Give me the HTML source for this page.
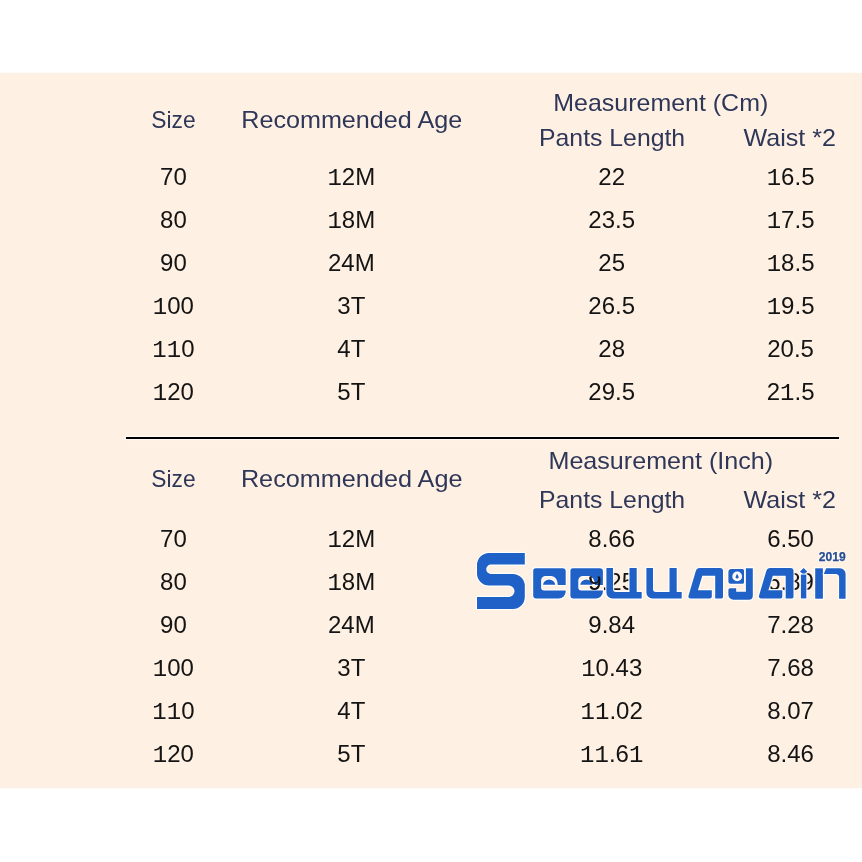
<!DOCTYPE html>
<html><head><meta charset="utf-8">
<style>
html,body{margin:0;padding:0;background:#fff;width:862px;height:862px;overflow:hidden}
svg{display:block;will-change:transform}
text{font-family:"Liberation Sans",sans-serif;font-size:24px;text-anchor:middle}
.h{fill:#2f3759}
.d{fill:#141414}
.m{font-family:"Liberation Mono",monospace}
</style></head><body>
<svg width="862" height="862" viewBox="0 0 862 862">
<rect x="0" y="0" width="862" height="862" fill="#fff"/>
<rect x="0" y="73" width="862" height="715" fill="#fef0e3"/>
<rect x="0" y="72" width="862" height="1" fill="#fffcf7"/><rect x="0" y="73" width="862" height="1" fill="#f9f0e8"/><rect x="0" y="787" width="862" height="1" fill="#f9f0e8"/><rect x="0" y="788" width="862" height="1" fill="#fffcf7"/>
<text class="h" x="173.5" y="127.6" textLength="44.29" lengthAdjust="spacingAndGlyphs">Size</text>
<text class="h" x="351.7" y="127.8" textLength="220.90" lengthAdjust="spacingAndGlyphs">Recommended Age</text>
<text class="h" x="660.8" y="110.8" textLength="214.92" lengthAdjust="spacingAndGlyphs">Measurement (Cm)</text>
<text class="h" x="612.1" y="145.6" textLength="146.05" lengthAdjust="spacingAndGlyphs">Pants Length</text>
<text class="h" x="789.7" y="145.5" textLength="92.47" lengthAdjust="spacingAndGlyphs">Waist *2</text>
<text class="h" x="173.5" y="486.6" textLength="44.29" lengthAdjust="spacingAndGlyphs">Size</text>
<text class="h" x="351.7" y="486.8" textLength="221.60" lengthAdjust="spacingAndGlyphs">Recommended Age</text>
<text class="h" x="660.8" y="468.8" textLength="224.65" lengthAdjust="spacingAndGlyphs">Measurement (Inch)</text>
<text class="h" x="612.1" y="507.6" textLength="146.05" lengthAdjust="spacingAndGlyphs">Pants Length</text>
<text class="h" x="789.7" y="507.5" textLength="92.47" lengthAdjust="spacingAndGlyphs">Waist *2</text>
<text class="d" x="173.4" y="185">70</text>
<text class="d" x="351.3" y="185"><tspan class="m">1</tspan>2M</text>
<text class="d" x="611.7" y="185">22</text>
<text class="d" x="790.6" y="185"><tspan class="m">1</tspan>6.5</text>
<text class="d" x="173.4" y="228">80</text>
<text class="d" x="351.3" y="228"><tspan class="m">1</tspan>8M</text>
<text class="d" x="611.7" y="228">23.5</text>
<text class="d" x="790.6" y="228"><tspan class="m">1</tspan>7.5</text>
<text class="d" x="173.4" y="271">90</text>
<text class="d" x="351.3" y="271">24M</text>
<text class="d" x="611.7" y="271">25</text>
<text class="d" x="790.6" y="271"><tspan class="m">1</tspan>8.5</text>
<text class="d" x="173.4" y="314"><tspan class="m">1</tspan>00</text>
<text class="d" x="351.3" y="314">3T</text>
<text class="d" x="611.7" y="314">26.5</text>
<text class="d" x="790.6" y="314"><tspan class="m">1</tspan>9.5</text>
<text class="d" x="173.4" y="357"><tspan class="m">1</tspan><tspan class="m">1</tspan>0</text>
<text class="d" x="351.3" y="357">4T</text>
<text class="d" x="611.7" y="357">28</text>
<text class="d" x="790.6" y="357">20.5</text>
<text class="d" x="173.4" y="400"><tspan class="m">1</tspan>20</text>
<text class="d" x="351.3" y="400">5T</text>
<text class="d" x="611.7" y="400">29.5</text>
<text class="d" x="790.6" y="400">2<tspan class="m">1</tspan>.5</text>
<text class="d" x="173.4" y="547">70</text>
<text class="d" x="351.3" y="547"><tspan class="m">1</tspan>2M</text>
<text class="d" x="611.7" y="547">8.66</text>
<text class="d" x="790.6" y="547">6.50</text>
<text class="d" x="173.4" y="590">80</text>
<text class="d" x="351.3" y="590"><tspan class="m">1</tspan>8M</text>
<text class="d" x="611.7" y="590">9.25</text>
<text class="d" x="790.6" y="590">6.89</text>
<text class="d" x="173.4" y="633">90</text>
<text class="d" x="351.3" y="633">24M</text>
<text class="d" x="611.7" y="633">9.84</text>
<text class="d" x="790.6" y="633">7.28</text>
<text class="d" x="173.4" y="676"><tspan class="m">1</tspan>00</text>
<text class="d" x="351.3" y="676">3T</text>
<text class="d" x="611.7" y="676"><tspan class="m">1</tspan>0.43</text>
<text class="d" x="790.6" y="676">7.68</text>
<text class="d" x="173.4" y="719"><tspan class="m">1</tspan><tspan class="m">1</tspan>0</text>
<text class="d" x="351.3" y="719">4T</text>
<text class="d" x="611.7" y="719"><tspan class="m">1</tspan><tspan class="m">1</tspan>.02</text>
<text class="d" x="790.6" y="719">8.07</text>
<text class="d" x="173.4" y="762"><tspan class="m">1</tspan>20</text>
<text class="d" x="351.3" y="762">5T</text>
<text class="d" x="611.7" y="762"><tspan class="m">1</tspan><tspan class="m">1</tspan>.6<tspan class="m">1</tspan></text>
<text class="d" x="790.6" y="762">8.46</text>
<rect x="125" y="435.8" width="715" height="1.2" fill="#fff" opacity="0.6"/><rect x="125" y="439" width="715" height="1.2" fill="#fff" opacity="0.6"/><rect x="126" y="437" width="713" height="2" fill="#000"/>
<g fill="#1f61c6" stroke="#ffffff" stroke-opacity="0.9" stroke-width="2.4" stroke-linejoin="round" paint-order="stroke" fill-rule="evenodd">
<path d="M524.8 553L489 553A12 12 0 0 0 477 565L477 573.5A12 12 0 0 0 489 585.5L508.75 585.5A5.75 5.75 0 0 1 508.75 597L477 597L477 608.9L512.8 608.9A12 12 0 0 0 524.8 596.9L524.8 586A12 12 0 0 0 512.8 574L490.95 574A4.75 4.75 0 0 1 490.95 564.5L524.8 564.5Z"/>
<g id="e1" transform="translate(533.2 568.2)">
<path d="M2.5 0L29.5 0A3 3 0 0 1 32.5 3L32.5 16.8L24.6 16.8A6.4 9.1 0 0 0 18.2 7.7L12.5 7.7A4.6 4.6 0 0 0 7.9 12.3L7.9 19.3A3 3 0 0 0 10.9 22.3L32.5 22.3L32.5 23.4A7 7 0 0 1 25.5 30.4L3 30.4A3 3 0 0 1 0 27.4L0 2.5A2.5 2.5 0 0 1 2.5 0Z"/>
<path d="M9.8 16.6A6.2 6.2 0 0 1 22.1 16.6Z"/>
</g>
<use href="#e1" transform="translate(37.2 0)"/>
<path id="u1" d="M606.4 568.1L613 568.1L613 589A3 3 0 0 0 616 592L629.5 592L629.5 568.1L636.7 568.1L636.7 592L641.7 592L641.7 598.5L612.4 598.5A6 6 0 0 1 606.4 592.5Z"/>
<use href="#u1" transform="translate(40 0)"/>
<path id="a1" d="M699.7 568.1L720 568.1A3 3 0 0 1 723 571.1L723 597A1.4 1.4 0 0 1 721.6 598.4L715.2 598.4L715.2 575.7L702.3 575.7L697.9 590.3L711.8 590.3L711.8 596.4A2 2 0 0 1 709.8 598.4L690.7 598.4Q687.7 598.4 688.65 595.2L695.8 571Q696.7 568.1 699.7 568.1Z"/>
<use href="#a1" transform="translate(70.5 0)"/>
<path d="M731.4 569.1L742.5 569.1A1.5 1.5 0 0 1 744 570.6L744 582.2A1.5 1.5 0 0 1 742.5 583.7L730.4 583.7A2 2 0 0 1 728.4 581.7L728.4 572.1A3 3 0 0 1 731.4 569.1Z M732.3 576.4A4.9 4.9 0 1 0 742.1 576.4A4.9 4.9 0 1 0 732.3 576.4Z M737.1 573.5L738.7 576.9A1.6 1.6 0 1 1 735.5 576.9Z"/>
<path d="M745.9 568.3L752.8 568.3L752.8 595.8A4 4 0 0 1 748.8 599.8L733.4 599.8A5 5 0 0 1 728.4 594.8L728.4 589.8A1.5 1.5 0 0 1 729.9 588.3L736.2 588.3L736.2 591.7L745.9 591.7Z"/>
<path d="M803.6 568.1L807.2 571.6L803.6 575.1L800 571.6Z"/>
<path d="M800.9 574.6L806.3 574.6L806.3 598.4L800.9 598.4Z"/>
<path d="M815.2 568.3L822.9 568.3L822.9 598.7L815.2 598.7Z"/>
<path d="M823.8 574.1L826.2 568.3L840 568.3A5.6 5.6 0 0 1 845.6 573.9L845.6 598.7L839.1 598.7L839.1 577.7A3.6 3.6 0 0 0 835.5 574.1Z"/>
</g>
<text x="832.2" y="560.6" fill="#fff" stroke="#fff" stroke-width="2" stroke-opacity="0.6" style="font-size:12.1px;font-weight:bold;text-anchor:middle">2019</text><text x="832.2" y="560.6" fill="#284d92" stroke="#284d92" stroke-width="0.25" style="font-size:12.1px;font-weight:bold;text-anchor:middle">2019</text>
<clipPath id="c9"><rect x="586" y="576.4" width="16.2" height="20"/></clipPath>
<text class="d" x="611.7" y="590" clip-path="url(#c9)">9.25</text>

</svg>
</body></html>
